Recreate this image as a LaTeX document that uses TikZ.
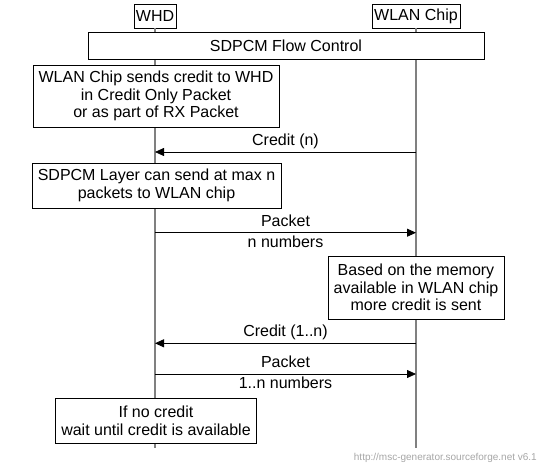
\documentclass[tikz,border=0pt]{standalone}
\usepackage{fontspec}
\setmainfont{Liberation Sans}
\usepackage{tikz}
\usetikzlibrary{positioning, arrows.meta, calc}

\begin{document}
\begin{tikzpicture}[
  x=1pt, y=-1pt,
  ent/.style={draw=black, fill=white, line width=0.8pt, inner sep=0pt, align=center,
              font=\fontsize{16}{17.7}\selectfont},
  note/.style={draw=black, fill=white, line width=0.8pt, inner sep=0pt, align=center,
               font=\fontsize{16}{17.7}\selectfont},
  life/.style={gray, line width=1.6pt},
  msg/.style={line width=0.8pt, -{Triangle[length=9pt, width=8pt]}},
  lbl/.style={font=\fontsize{16}{17.7}\selectfont, inner sep=3pt,
              text height=11.5pt, text depth=3pt},
]
  \useasboundingbox (0,0) rectangle (538,468);

  % Entities
  \node[ent, minimum width=42pt, minimum height=24pt] (whd) at (155,16) {WHD};
  \node[ent, minimum width=88pt, minimum height=24pt] (chip) at (416,16) {WLAN Chip};

  % Lifelines
  \coordinate (whdend) at (155,448);
  \coordinate (chipend) at (416,448);
  \draw[life] (whd.south) -- (whdend);
  \draw[life] (chip.south) -- (chipend);

  % Title box
  \node[note, minimum width=396pt, minimum height=27pt] (flow) at (286,45.5) {SDPCM Flow Control};

  % Notes
  \node[note, minimum width=246pt, minimum height=62pt] (n1) at (156,96)
    {WLAN Chip sends credit to WHD\\in Credit Only Packet\\or as part of RX Packet};
  \node[note, minimum width=249pt, minimum height=45pt] (n2) at (156.5,185.5)
    {SDPCM Layer can send at max n\\packets to WLAN chip};
  \node[note, minimum width=176pt, minimum height=63pt] (n3) at (416,287.5)
    {Based on the memory\\available in WLAN chip\\more credit is sent};
  \node[note, minimum width=201pt, minimum height=45pt] (n4) at (156,421)
    {If no credit\\wait until credit is available};

  % Message end points
  \coordinate (c1w) at (155,152);   \coordinate (c1c) at (416,152);
  \coordinate (p1w) at (155,232.7); \coordinate (p1c) at (416,232.7);
  \coordinate (c2w) at (155,343.3); \coordinate (c2c) at (416,343.3);
  \coordinate (p2w) at (155,374);   \coordinate (p2c) at (416,374);

  % Messages
  \draw[msg] (c1c) -- node[lbl, above] (l1) {Credit (n)} (c1w);
  \draw[msg] (p1w) -- node[lbl, above] (l2) {Packet}
                      node[lbl, below] (l3) {n numbers} (p1c);
  \draw[msg] (c2c) -- node[lbl, above] (l4) {Credit (1..n)} (c2w);
  \draw[msg] (p2w) -- node[lbl, above] (l5) {Packet}
                      node[lbl, below] (l6) {1..n numbers} (p2c);

  % Footer
  \node[anchor=east, text=gray!70, font=\fontsize{10}{12}\selectfont, inner sep=0pt]
    (foot) at (537,458) {http://msc-generator.sourceforge.net v6.1};
\end{tikzpicture}
\end{document}
